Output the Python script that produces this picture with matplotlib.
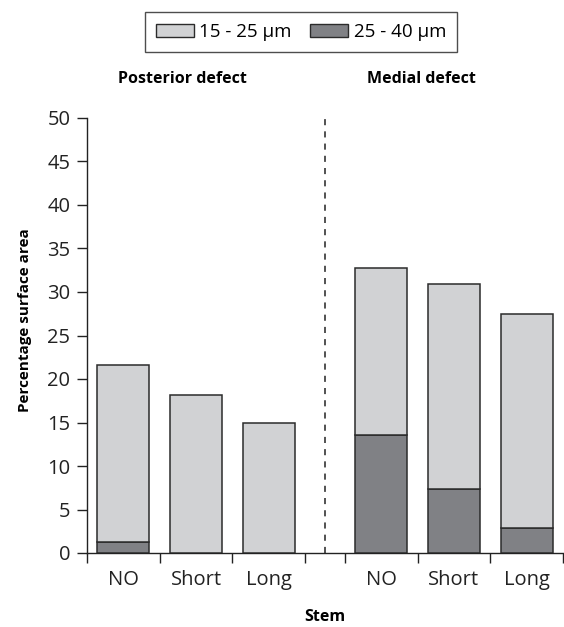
import matplotlib
matplotlib.use("Agg")
import matplotlib.pyplot as plt
from matplotlib.patches import Patch

plt.rcParams['font.family'] = ['Open Sans', 'DejaVu Sans']

# values
stems = ["NO", "Short", "Long"]
groups = ["Posterior defect", "Medial defect"]
coarse = [1.3, 0.0, 0.0, 13.6, 7.3, 2.9]      # 25 - 40 um
total = [21.6, 18.2, 15.0, 32.8, 30.9, 27.5]  # stacked top
fine = [t - c for t, c in zip(total, coarse)]  # 15 - 25 um
yticks = [0, 5, 10, 15, 20, 25, 30, 35, 40, 45, 50]

light = "#d1d2d4"
dark = "#808185"
edge = "#2b2b2b"

gap = 0.55
pos = [0.5, 1.5, 2.5, 3.5 + gap, 4.5 + gap, 5.5 + gap]
width = 0.715

fig = plt.figure(figsize=(5.64, 6.27), dpi=100)
ax = fig.add_axes([87/564, 1 - 553/627, 476/564, 435/627])

ax.bar(pos, coarse, width, color=dark, edgecolor=edge, linewidth=1.1, zorder=3)
ax.bar(pos, fine, width, bottom=coarse, color=light, edgecolor=edge, linewidth=1.1, zorder=3)

ax.plot([3 + gap/2, 3 + gap/2], [0, 50], color="#222222", lw=1.1,
        linestyle=(0, (4, 4)), zorder=2)

ax.set_xlim(0, 6 + gap)
ax.set_ylim(0, 50)
ax.set_yticks(yticks)
ax.tick_params(axis='y', labelsize=14.5, length=7, width=1, direction='out', pad=5, colors="#222222")

bounds = [0, 1, 2, 3, 3 + gap, 4 + gap, 5 + gap, 6 + gap]
ax.set_xticks(bounds)
ax.set_xticklabels([])
ax.set_xticks(pos, minor=True)
ax.set_xticklabels(stems * 2, minor=True)
ax.tick_params(axis='x', which='major', length=7, width=1, direction='out', colors="#222222")
ax.tick_params(axis='x', which='minor', length=0, labelsize=14.5, pad=12, colors="#222222")

for s in ["top", "right"]:
    ax.spines[s].set_visible(False)
for s in ["left", "bottom"]:
    ax.spines[s].set_linewidth(1)
    ax.spines[s].set_color("#222222")
ax.spines["bottom"].set_clip_on(False)

fig.text(182/564, 1 - 79/627, groups[0], ha='center', va='center', fontsize=11.5, fontweight='bold')
fig.text(421/564, 1 - 79/627, groups[1], ha='center', va='center', fontsize=11.5, fontweight='bold')
fig.text(25/564, 1 - 320/627, "Percentage surface area", rotation=90, ha='center', va='center',
         fontsize=11, fontweight='bold')
fig.text(325/564, 1 - 617/627, "Stem", ha='center', va='center', fontsize=11.5, fontweight='bold')

handles = [Patch(facecolor=light, edgecolor=edge, linewidth=1, label="15 - 25 µm"),
           Patch(facecolor=dark, edgecolor=edge, linewidth=1, label="25 - 40 µm")]
leg = fig.legend(handles=handles, loc='center', bbox_to_anchor=(301/564, 1 - 32/627), ncol=2,
                 fontsize=13.5, frameon=True, fancybox=False, handlelength=2.0, handleheight=0.7,
                 handletextpad=0.3, columnspacing=1.0, borderpad=0.6)
leg.get_frame().set_edgecolor("#222222")
leg.get_frame().set_linewidth(1)

fig.savefig("out.png", dpi=100)
